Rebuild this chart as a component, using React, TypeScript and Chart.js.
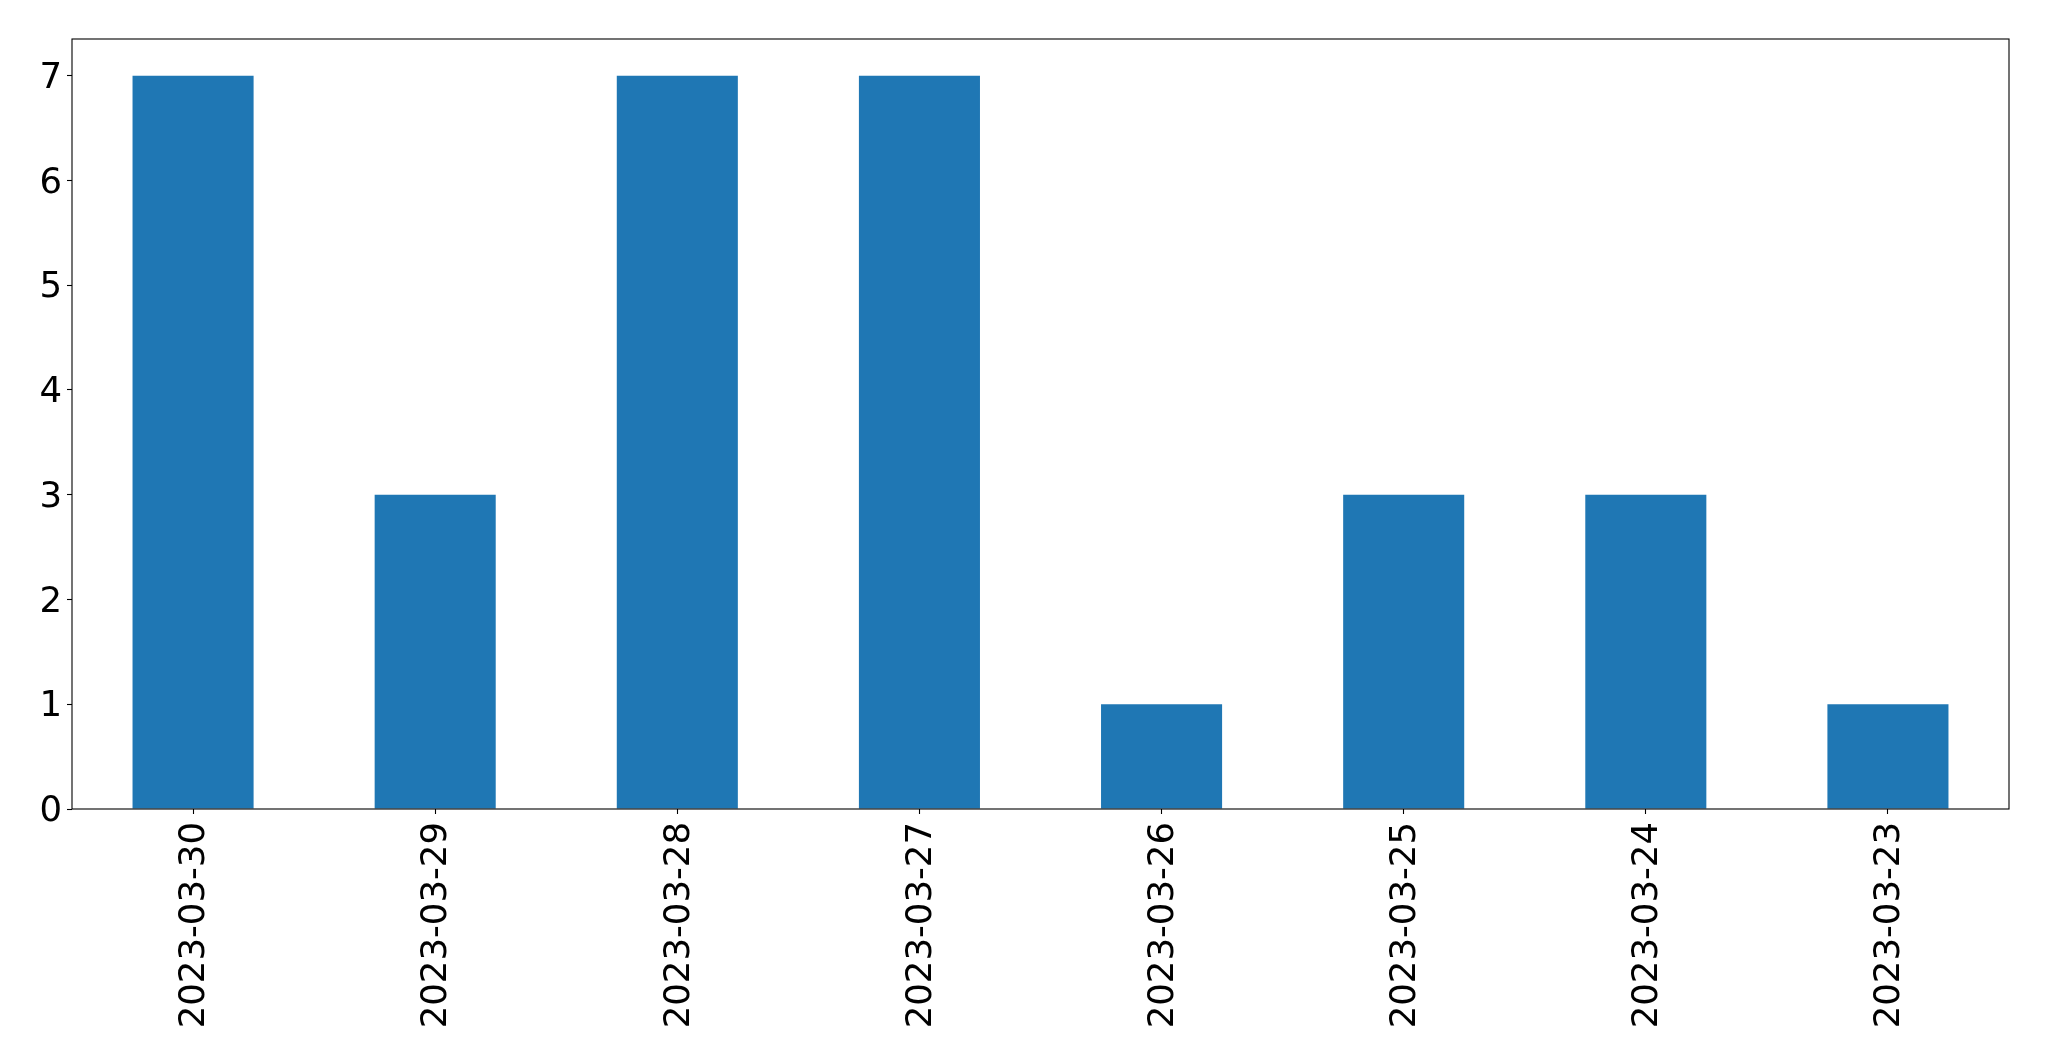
import React, { useEffect, useRef } from "react";
import { Chart, registerables } from "chart.js";

Chart.register(...registerables);

const categories = [
  "2023-03-30",
  "2023-03-29",
  "2023-03-28",
  "2023-03-27",
  "2023-03-26",
  "2023-03-25",
  "2023-03-24",
  "2023-03-23",
];
const counts = [7, 3, 7, 7, 1, 3, 3, 1];
const yTicks = [0, 1, 2, 3, 4, 5, 6, 7];
const yMin = 0;
const yMax = 7.35;

const FONT = "'DejaVu Sans', sans-serif";
const FONT_SIZE = 35.5;

const boxPlugin = {
  id: "frameBox",
  afterDraw(chart: any) {
    const { ctx, chartArea } = chart;
    ctx.save();
    ctx.strokeStyle = "#000";
    ctx.lineWidth = 1.1;
    ctx.strokeRect(
      chartArea.left,
      chartArea.top,
      chartArea.right - chartArea.left,
      chartArea.bottom - chartArea.top
    );
    ctx.restore();
  },
};

export default function App() {
  const ref = useRef<HTMLCanvasElement | null>(null);

  useEffect(() => {
    document.body.style.margin = "0";
    const canvas = ref.current;
    if (!canvas) return;
    const chart = new Chart(canvas, {
      type: "bar",
      data: {
        labels: categories,
        datasets: [
          {
            data: counts,
            backgroundColor: "#1f77b4",
            borderWidth: 0,
            barPercentage: 0.5,
            categoryPercentage: 1.0,
          },
        ],
      },
      options: {
        responsive: false,
        animation: false,
        devicePixelRatio: 1,
        layout: { padding: { top: 39, right: 40, bottom: 0, left: 0 } },
        plugins: {
          legend: { display: false },
          tooltip: { enabled: false },
          title: { display: false },
        },
        scales: {
          x: {
            type: "category",
            offset: true,
            grid: {
              drawOnChartArea: false,
              drawTicks: true,
              tickLength: 5,
              tickColor: "#000",
              tickWidth: 1.1,
              offset: false,
            },
            border: { display: false },
            ticks: {
              color: "#000",
              font: { family: FONT, size: FONT_SIZE },
              minRotation: 90,
              maxRotation: 90,
              autoSkip: false,
              padding: 8,
              labelOffset: 2,
            },
            afterFit(scale: any) {
              scale.height = 252;
            },
          },
          y: {
            type: "linear",
            min: yMin,
            max: yMax,
            grid: {
              drawOnChartArea: false,
              drawTicks: true,
              tickLength: 5,
              tickColor: "#000",
              tickWidth: 1.1,
            },
            border: { display: false },
            ticks: {
              color: "#000",
              font: { family: FONT, size: FONT_SIZE },
              padding: 5,
              labelOffset: 3,
            },
            afterBuildTicks(scale: any) {
              scale.ticks = yTicks.map((v) => ({ value: v }));
            },
            afterFit(scale: any) {
              scale.width = 72;
            },
          },
        },
      },
      plugins: [boxPlugin],
    });
    return () => chart.destroy();
  }, []);

  return (
    <div
      style={{
        position: "fixed",
        left: 0,
        top: 0,
        width: 2049,
        height: 1061,
        background: "#fff",
      }}
    >
      <canvas ref={ref} width={2049} height={1061} />
    </div>
  );
}
